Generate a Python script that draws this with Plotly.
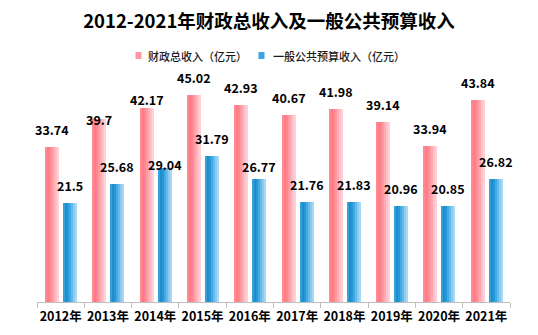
import plotly.graph_objects as go

years = ["2012年", "2013年", "2014年", "2015年", "2016年", "2017年", "2018年", "2019年", "2020年", "2021年"]
total_rev = [33.74, 39.7, 42.17, 45.02, 42.93, 40.67, 41.98, 39.14, 33.94, 43.84]
budget_rev = [21.5, 25.68, 29.04, 31.79, 26.77, 21.76, 21.83, 20.96, 20.85, 26.82]
name_total = "财政总收入（亿元）"
name_budget = "一般公共预算收入（亿元）"
title_text = "2012-2021年财政总收入及一般公共预算收入"

W, H = 538, 335
L, R, T, B = 37, 28, 72, 33
PW, PH = W - L - R, H - T - B
FONT = "Noto Sans CJK SC"

red_cols = ["#FF8A92", "#FF7C86", "#FF858E", "#FF98A1", "#FFACB5", "#FFC0C8", "#FFD0D7"]
blue_cols = ["#35A0D9", "#1E8ECB", "#2798D5", "#43A9E1", "#66BAE9", "#8BCBF0", "#A8D9F4"]

bar_w = 0.296
red_off = -0.33
blue_off = 0.05
n = len(red_cols)
sw = bar_w / n

fig = go.Figure()
for vals, cols, off in ((total_rev, red_cols, red_off), (budget_rev, blue_cols, blue_off)):
    for k, c in enumerate(cols):
        fig.add_trace(go.Bar(
            x=years, y=vals, offset=off + k * sw, width=sw * 1.02,
            marker=dict(color=c, line=dict(width=0)),
            showlegend=False, hoverinfo="skip",
        ))

# data labels
nudge_total = {1: -18, 2: -9}
nudge_budget = {2: -14, 4: -5}
anns = []
for i, v in enumerate(total_rev):
    anns.append(dict(x=i + red_off + bar_w / 2, y=v, xref="x", yref="y", text=f"{v:g}",
                     showarrow=False, yanchor="bottom", yshift=6 + nudge_total.get(i, 0),
                     font=dict(family=FONT, size=12.5, color="#000000", weight="bold")))
for i, v in enumerate(budget_rev):
    anns.append(dict(x=i + blue_off + bar_w / 2, y=v, xref="x", yref="y", text=f"{v:g}",
                     showarrow=False, yanchor="bottom", yshift=6 + nudge_budget.get(i, 0),
                     font=dict(family=FONT, size=12.5, color="#000000", weight="bold")))

# custom legend
def px_x(p):
    return (p - L) / PW

def px_y(p):
    return (H - B - p) / PH

leg_y = 55.5
shapes = []
for mx, col, tx, label in ((135.5, "#FF97A0", 146, name_total), (258.5, "#3AA5DE", 271, name_budget)):
    shapes.append(dict(type="rect", xref="paper", yref="paper",
                       x0=px_x(mx), x1=px_x(mx + 6), y0=px_y(leg_y + 3.5), y1=px_y(leg_y - 3.5),
                       fillcolor=col, line=dict(width=0)))
    anns.append(dict(x=px_x(tx), y=px_y(leg_y), xref="paper", yref="paper", text=label,
                     showarrow=False, xanchor="left", yanchor="middle",
                     font=dict(family=FONT, size=11, color="#1a1a1a", weight=500)))

fig.update_layout(
    width=W, height=H,
    margin=dict(l=L, r=R, t=T, b=B, pad=0),
    paper_bgcolor="white", plot_bgcolor="white",
    barmode="overlay", bargap=0,
    showlegend=False,
    title=dict(text=title_text, x=0.5, xanchor="center", y=1 - 22 / H, yanchor="middle",
               font=dict(family=FONT, size=18.5, color="#000000", weight="bold")),
    xaxis=dict(type="category", range=[-0.5, len(years) - 0.5], showgrid=False,
               showline=True, linecolor="#BFBFBF", linewidth=1,
               ticks="outside", tickson="boundaries", ticklen=5, tickcolor="#BFBFBF",
               tickangle=0, automargin=False, ticklabelstandoff=3,
               tickfont=dict(family=FONT, size=12.5, color="#000000", weight="bold")),
    yaxis=dict(range=[0, 50], visible=False, showgrid=False, automargin=False),
    annotations=anns, shapes=shapes,
)
fig.update_traces(cliponaxis=False)
fig.write_html("out.html")
